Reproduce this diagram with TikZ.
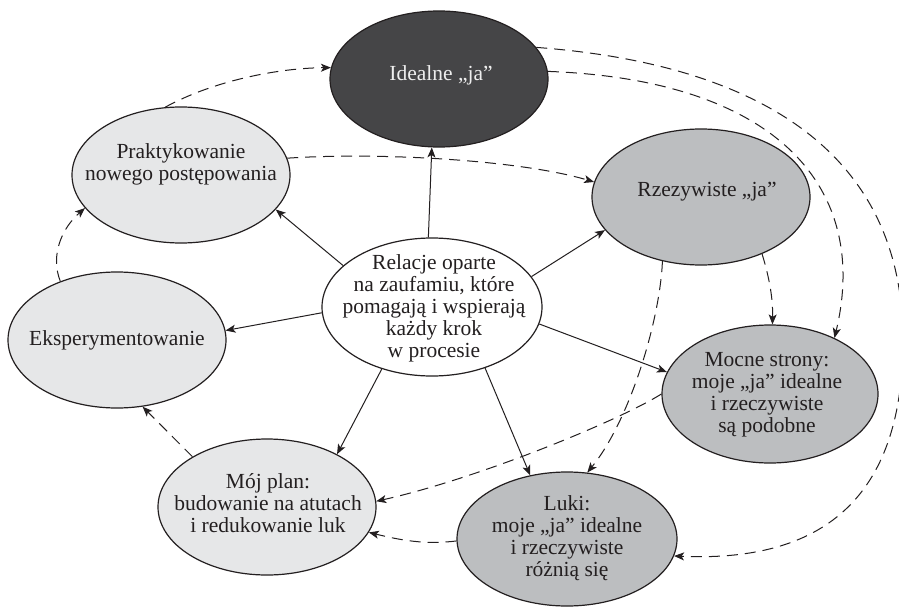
\documentclass[tikz,border=0pt]{standalone}
\usepackage{fontspec}
\setmainfont{Liberation Serif}
\usetikzlibrary{shapes.geometric,arrows.meta}
\definecolor{ink}{HTML}{231F20}
\definecolor{darkfill}{HTML}{454547}
\definecolor{lightfill}{HTML}{E6E7E8}
\definecolor{midfill}{HTML}{BCBEC0}
\definecolor{lighttext}{HTML}{EEEEEE}
\begin{document}
\begin{tikzpicture}[x=1pt,y=-1pt,
  blob/.style={ellipse, draw=ink, line width=1.2pt, minimum width=218pt, minimum height=136pt, inner sep=0pt},
  lbl/.style={font=\fontsize{21.5}{22}\selectfont, text=ink, align=center, inner sep=0pt},
  tip/.style={-{Stealth[length=10pt,width=8pt,inset=2.5pt]}},
  solidarrow/.style={draw=ink, line width=1pt, tip},
  dasharrow/.style={draw=ink, line width=1pt, dash pattern=on 11pt off 7pt, tip},
]
\fill[white] (0,0) rectangle (899,608);
\useasboundingbox (0,0) rectangle (899,608);

% ellipses
\node[blob, fill=darkfill] (ideal) at (439,79) {};
\node[blob, fill=lightfill] (prakt) at (181,175) {};
\node[blob, fill=midfill] (rzecz) at (701,197) {};
\node[blob, fill=lightfill] (eksp) at (117,340) {};
\node[blob, fill=lightfill] (plan) at (267,507) {};
\node[blob, fill=midfill, minimum width=216pt, minimum height=138pt] (mocne) at (770,394) {};
\node[blob, fill=midfill, minimum width=220pt, minimum height=134pt] (luki) at (567,539) {};
\node[blob, fill=white, minimum width=220pt, minimum height=138pt] (rel) at (432,307) {};

% texts
\node[lbl, text=lighttext, anchor=base] (idealT) at (441,80) {Idealne „ja”};
\node[lbl] (praktT) at (181,164) {Praktykowanie\\nowego postępowania};
\node[lbl, anchor=base] (rzeczT) at (707,196) {Rzezywiste „ja”};
\node[lbl, anchor=base] (ekspT) at (117,345) {Eksperymentowanie};
\node[lbl] (planT) at (268,503) {Mój plan:\\budowanie na atutach\\i redukowanie luk};
\node[lbl] (mocneT) at (767,395) {Mocne strony:\\moje „ja” idealne\\i rzeczywiste\\są podobne};
\node[lbl] (lukiT) at (567,538) {Luki:\\moje „ja” idealne\\i rzeczywiste\\różnią się};
\node[lbl] (relT) at (434,308) {Relacje oparte\\na zaufamiu, które\\pomagają i wspierają\\każdy krok\\w procesie};

% solid arrows from the centre
\draw[solidarrow] (rel.93) -- (ideal.264);
\draw[solidarrow] (rel.155) -- (prakt.340);
\draw[solidarrow] (rel.17) -- (rzecz.199);
\draw[solidarrow] (rel.183) -- (eksp.5);
\draw[solidarrow] (rel.231) -- (plan.37);
\draw[solidarrow] (rel.351) -- (mocne.168);
\draw[solidarrow] (rel.311) -- (luki.120);

% dashed arrows
\coordinate (outer) at (903,340);
\draw[dasharrow] (prakt.103) .. controls (215,80) and (280,68) .. (ideal.174);
\draw[dasharrow] (prakt.9) .. controls (380,152) and (520,160) .. (rzecz.172);
\draw[dasharrow] (eksp.134) .. controls (50,255) and (62,228) .. (prakt.199);
\draw[dasharrow] (plan.146) -- (eksp.291);
\draw[dasharrow] (ideal.18) .. controls (770,65) and (903,160) .. (outer) .. controls (903,510) and (810,562) .. (luki.351);
\draw[dasharrow] (ideal.4) .. controls (780,80) and (870,190) .. (mocne.41);
\draw[dasharrow] (rzecz.317) .. controls (770,280) and (773,300) .. (mocne.88);
\draw[dasharrow] (rzecz.239) .. controls (660,320) and (630,420) .. (luki.73);
\draw[dasharrow] (mocne.180) .. controls (620,420) and (480,478) .. (plan.3);
\draw[dasharrow] (luki.181) .. controls (425,545) and (400,540) .. (plan.346);
\end{tikzpicture}
\end{document}
